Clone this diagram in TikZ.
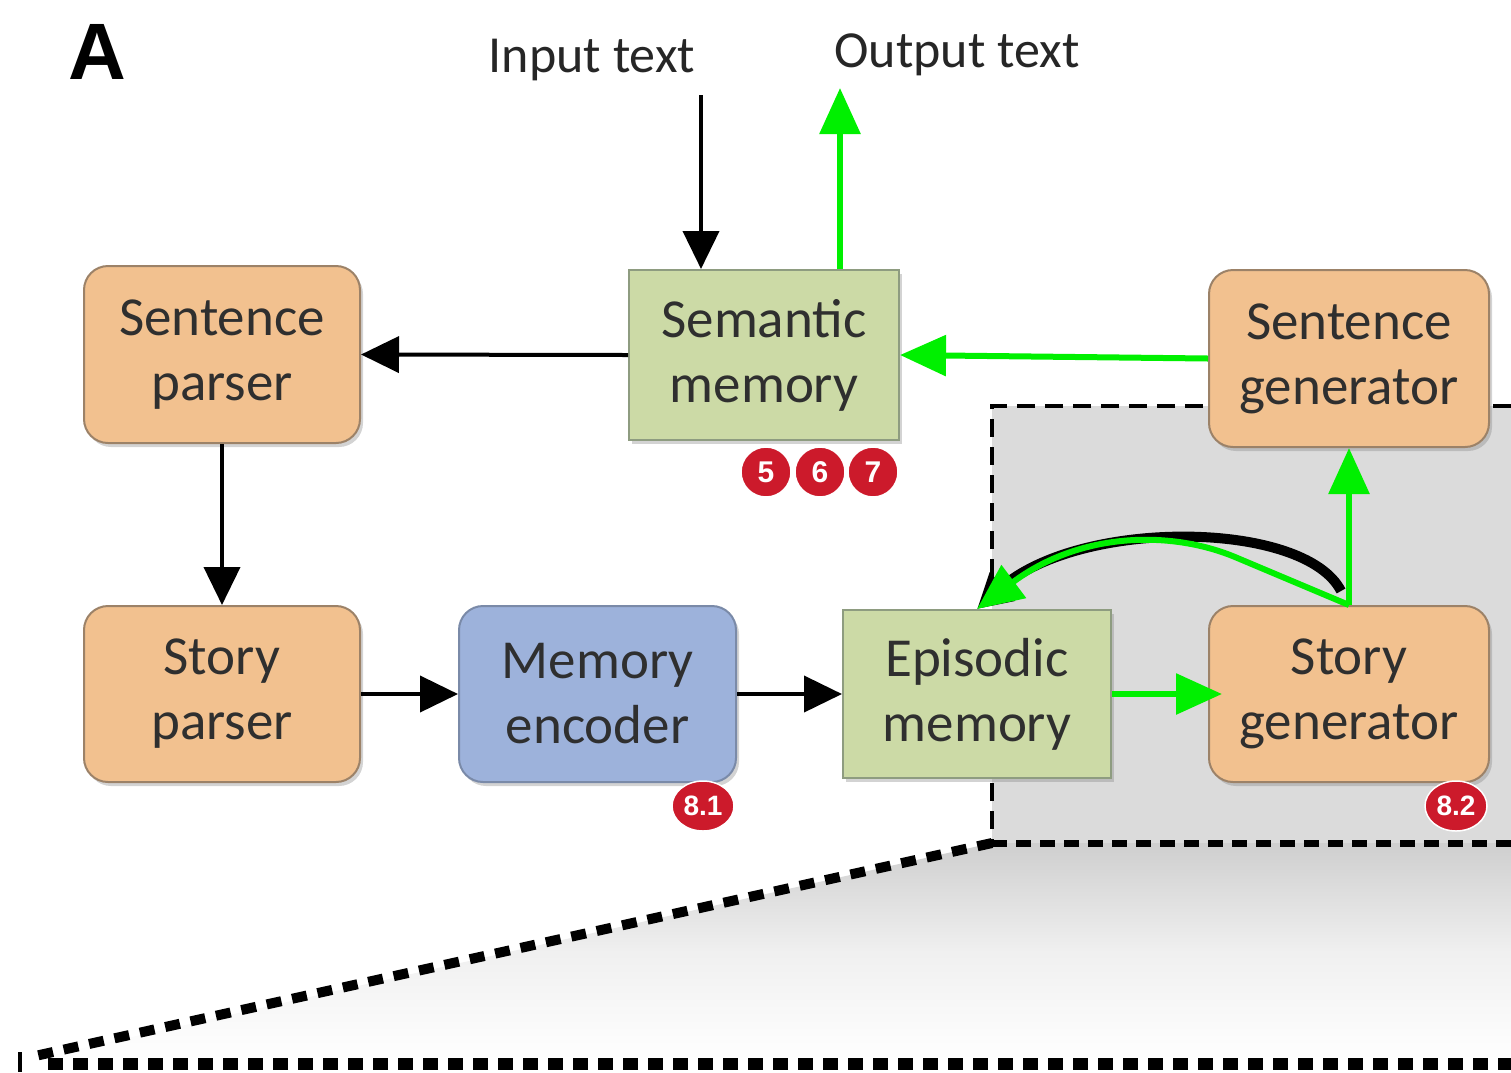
\documentclass[tikz,border=0pt]{standalone}
\usepackage{fontspec}
\setmainfont{Carlito}
\newfontfamily\labfont{Liberation Sans}
\usetikzlibrary{arrows.meta,shadows,calc,shapes.geometric}

\definecolor{orangefill}{HTML}{F2C18F}
\definecolor{orangeedge}{HTML}{9C8268}
\definecolor{bluefill}{HTML}{9DB2DB}
\definecolor{blueedge}{HTML}{7A8AA8}
\definecolor{greenfill}{HTML}{CCDAA6}
\definecolor{greenedge}{HTML}{8E9C80}
\definecolor{brightgreen}{HTML}{00F000}
\definecolor{badgered}{HTML}{CC1A2B}
\definecolor{regiongray}{HTML}{DBDBDB}
\definecolor{textdark}{HTML}{2F2F2F}

\begin{document}
\begin{tikzpicture}[x=1pt,y=-1pt,
  box/.style={draw, line width=2pt, align=center, text=textdark,
    font=\fontsize{55}{65}\selectfont, inner sep=0pt,
    drop shadow={shadow xshift=3pt, shadow yshift=-4pt, opacity=0.35}},
  obox/.style={box, rounded corners=24pt, fill=orangefill, draw=orangeedge},
  bbox/.style={box, rounded corners=24pt, fill=bluefill, draw=blueedge},
  gbox/.style={box, fill=greenfill, draw=greenedge},
  blackarrow/.style={line width=4pt, draw=black, -{Triangle[length=38pt,width=36pt]}},
  greenarrow/.style={line width=6pt, draw=brightgreen, -{Triangle[length=46pt,width=40pt]}},
  badge/.style={circle, fill=badgered, draw=white, line width=1.5pt, minimum size=50pt,
    inner sep=0pt, text=white, font=\labfont\bfseries\fontsize{30}{30}\selectfont},
  ebadge/.style={badge, ellipse, minimum width=62pt, minimum height=50pt,
    font=\labfont\bfseries\fontsize{28}{28}\selectfont},
  toplabel/.style={text=black!85, font=\fontsize{52}{60}\selectfont},
  thindash/.style={line width=4pt, dash pattern=on 18pt off 10pt},
  thickdash/.style={line width=10pt, dash pattern=on 15pt off 11pt}
]
\useasboundingbox (0,0) rectangle (1511,1072);

% gray region and perspective shading
\fill[regiongray] (992,406) rectangle (1511,843);
\shade[top color=gray!38, bottom color=white, middle color=gray!12]
  (992,843) -- (1511,843) -- (1511,1060) -- (30,1060) -- cycle;
\draw[thindash] (1511,406) -- (992,406) -- (992,843);
\draw[line width=7pt, dash pattern=on 15pt off 9pt] (992,843) -- (1511,843);
\draw[thickdash] (992,843) -- (35,1056);
\draw[line width=12pt, dash pattern=on 15pt off 10pt] (48,1064) -- (1511,1064);
\draw[line width=4pt] (20,1052) -- (20,1072);

% label A
\node[font=\labfont\bfseries\fontsize{80}{80}\selectfont] (lblA) at (97,52) {A};

% boxes
\node[obox, minimum width=276pt, minimum height=177pt] (spar) at (222,354.5) {Sentence\\parser};
\node[obox, minimum width=276pt, minimum height=176pt] (stpar) at (222,694) {Story\\parser};
\node[bbox, minimum width=277pt, minimum height=176pt] (menc) at (597.5,694) {Memory\\encoder};
\node[gbox, minimum width=270pt, minimum height=170pt] (sem) at (764,355) {Semantic\\memory};
\node[gbox, minimum width=268pt, minimum height=168pt] (epi) at (977,694) {Episodic\\memory};
\node[obox, minimum width=280pt, minimum height=177pt] (sgen) at (1349,358.5) {Sentence\\generator};
\node[obox, minimum width=280pt, minimum height=176pt] (stgen) at (1349,694) {Story\\generator};

% top labels
\node[toplabel] (intext) at (592,60) {Input text};
\node[toplabel] (outtext) at (957,55) {Output text};
\coordinate (inarr) at (701,95);
\coordinate (outarr) at (840,88);

% badges
\node[badge] (b5) at (766,472) {5};
\node[badge] (b6) at (820,472) {6};
\node[badge] (b7) at (873,472) {7};
\node[ebadge] (b81) at (703,806) {8.1};
\node[ebadge] (b82) at (1456,806) {8.2};

% black connectors
\draw[blackarrow] (inarr) -- (inarr |- sem.north);
\draw[blackarrow] (sem.west) -- (spar.east);
\draw[blackarrow] (spar.south) -- (stpar.north);
\draw[blackarrow] (stpar.east) -- (menc.west);
\draw[blackarrow] (menc.east) -- (epi.west);
\draw[line width=10pt, -{Triangle[length=34pt,width=36pt]}]
  ($(stgen.north)+(-8,-14)$) .. controls (1305,520) and (1080,518) .. (epi.north);

% green connectors
\draw[greenarrow] (sem.north -| outarr) -- (outarr);
\draw[greenarrow] (sgen.west) -- (sem.east);
\draw[greenarrow] (epi.east) -- ($(stgen.west)+(14,0)$);
\draw[greenarrow] (stgen.north) -- (sgen.south);
\draw[greenarrow] (stgen.north) -- (1235,557) .. controls (1170,530) and (1080,532) .. (epi.north);
\end{tikzpicture}
\end{document}
